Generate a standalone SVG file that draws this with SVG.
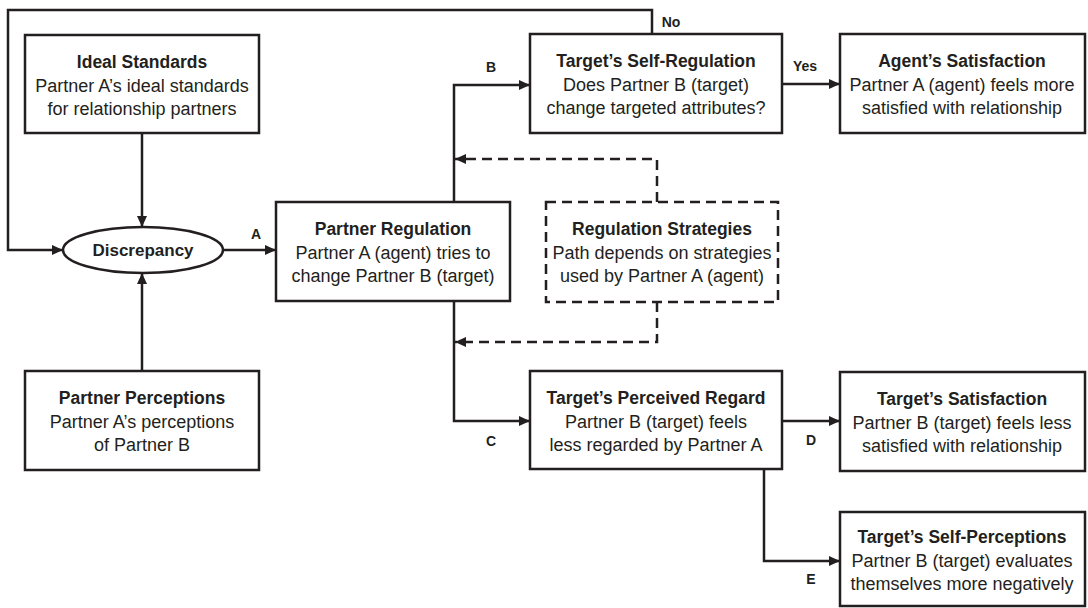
<svg xmlns="http://www.w3.org/2000/svg" width="1088" height="608" viewBox="0 0 1088 608">
<style>
.box{fill:#fff;stroke:#231f20;stroke-width:2.5}
.dbox{fill:#fff;stroke:#231f20;stroke-width:2.5;stroke-dasharray:10 6}
.ln{fill:none;stroke:#231f20;stroke-width:2.5}
.dln{fill:none;stroke:#231f20;stroke-width:2.5;stroke-dasharray:10 6}
.t{font-family:"Liberation Sans",Arial,sans-serif;font-size:18px;fill:#231f20;text-anchor:middle}
.b{font-weight:bold;font-size:17.5px}
.lab{font-family:"Liberation Sans",Arial,sans-serif;font-size:14px;font-weight:bold;fill:#231f20;text-anchor:middle}
</style>
<defs>
<marker id="ah" markerUnits="userSpaceOnUse" markerWidth="12" markerHeight="10" refX="11" refY="5" orient="auto">
<path d="M0,0 L11,5 L0,10 Z" fill="#231f20"/>
</marker>
</defs>
<rect width="1088" height="608" fill="#fff"/>
<g id="connectors">
<path class="ln" d="M652,34 V10 H8 V250 H63" marker-end="url(#ah)"/>
<path class="ln" d="M142,133 V227" marker-end="url(#ah)"/>
<path class="ln" d="M142,371 V273" marker-end="url(#ah)"/>
<path class="ln" d="M223,250 H276" marker-end="url(#ah)"/>
<path class="ln" d="M454,202 V85 H530" marker-end="url(#ah)"/>
<path class="ln" d="M782,84 H840" marker-end="url(#ah)"/>
<path class="ln" d="M454,301 V421 H530" marker-end="url(#ah)"/>
<path class="ln" d="M782,421 H840" marker-end="url(#ah)"/>
<path class="ln" d="M764,469 V561 H840" marker-end="url(#ah)"/>
<path class="dln" d="M657,202 V159 H455" marker-end="url(#ah)"/>
<path class="dln" d="M657,302 V342 H455" marker-end="url(#ah)"/>
<text class="lab" x="671" y="27">No</text>
<text class="lab" x="805" y="71">Yes</text>
<text class="lab" x="256" y="239">A</text>
<text class="lab" x="491" y="72">B</text>
<text class="lab" x="491" y="446">C</text>
<text class="lab" x="811" y="445">D</text>
<text class="lab" x="811" y="584">E</text>
</g>
<g id="ideal-standards">
<rect class="box" x="25" y="35" width="234" height="98"/>
<text class="t b" x="142" y="68">Ideal Standards</text>
<text class="t" x="142" y="92">Partner A’s ideal standards</text>
<text class="t" x="142" y="115">for relationship partners</text>
</g>
<g id="discrepancy">
<ellipse class="box" cx="143" cy="250" rx="80" ry="23"/>
<text class="t b" x="143" y="256" style="font-size:17px">Discrepancy</text>
</g>
<g id="partner-perceptions">
<rect class="box" x="25" y="371" width="234" height="99"/>
<text class="t b" x="142" y="404">Partner Perceptions</text>
<text class="t" x="142" y="428">Partner A’s perceptions</text>
<text class="t" x="142" y="451">of Partner B</text>
</g>
<g id="partner-regulation">
<rect class="box" x="276" y="202" width="234" height="99"/>
<text class="t b" x="393" y="235">Partner Regulation</text>
<text class="t" x="393" y="259">Partner A (agent) tries to</text>
<text class="t" x="393" y="282">change Partner B (target)</text>
</g>
<g id="regulation-strategies">
<rect class="dbox" x="546" y="202" width="232" height="100"/>
<text class="t b" x="662" y="235">Regulation Strategies</text>
<text class="t" x="662" y="259">Path depends on strategies</text>
<text class="t" x="662" y="282">used by Partner A (agent)</text>
</g>
<g id="self-regulation">
<rect class="box" x="530" y="34" width="252" height="99"/>
<text class="t b" x="656" y="67">Target’s Self-Regulation</text>
<text class="t" x="656" y="91">Does Partner B (target)</text>
<text class="t" x="656" y="114">change targeted attributes?</text>
</g>
<g id="agent-satisfaction">
<rect class="box" x="840" y="34" width="245" height="99"/>
<text class="t b" x="962" y="67">Agent’s Satisfaction</text>
<text class="t" x="962" y="91">Partner A (agent) feels more</text>
<text class="t" x="962" y="114">satisfied with relationship</text>
</g>
<g id="perceived-regard">
<rect class="box" x="530" y="371" width="252" height="98"/>
<text class="t b" x="656" y="404">Target’s Perceived Regard</text>
<text class="t" x="656" y="428">Partner B (target) feels</text>
<text class="t" x="656" y="451">less regarded by Partner A</text>
</g>
<g id="target-satisfaction">
<rect class="box" x="840" y="372" width="245" height="99"/>
<text class="t b" x="962" y="405">Target’s Satisfaction</text>
<text class="t" x="962" y="429">Partner B (target) feels less</text>
<text class="t" x="962" y="452">satisfied with relationship</text>
</g>
<g id="self-perceptions">
<rect class="box" x="840" y="512" width="245" height="94"/>
<text class="t b" x="962" y="543">Target’s Self-Perceptions</text>
<text class="t" x="962" y="567">Partner B (target) evaluates</text>
<text class="t" x="962" y="590">themselves more negatively</text>
</g>
</svg>
